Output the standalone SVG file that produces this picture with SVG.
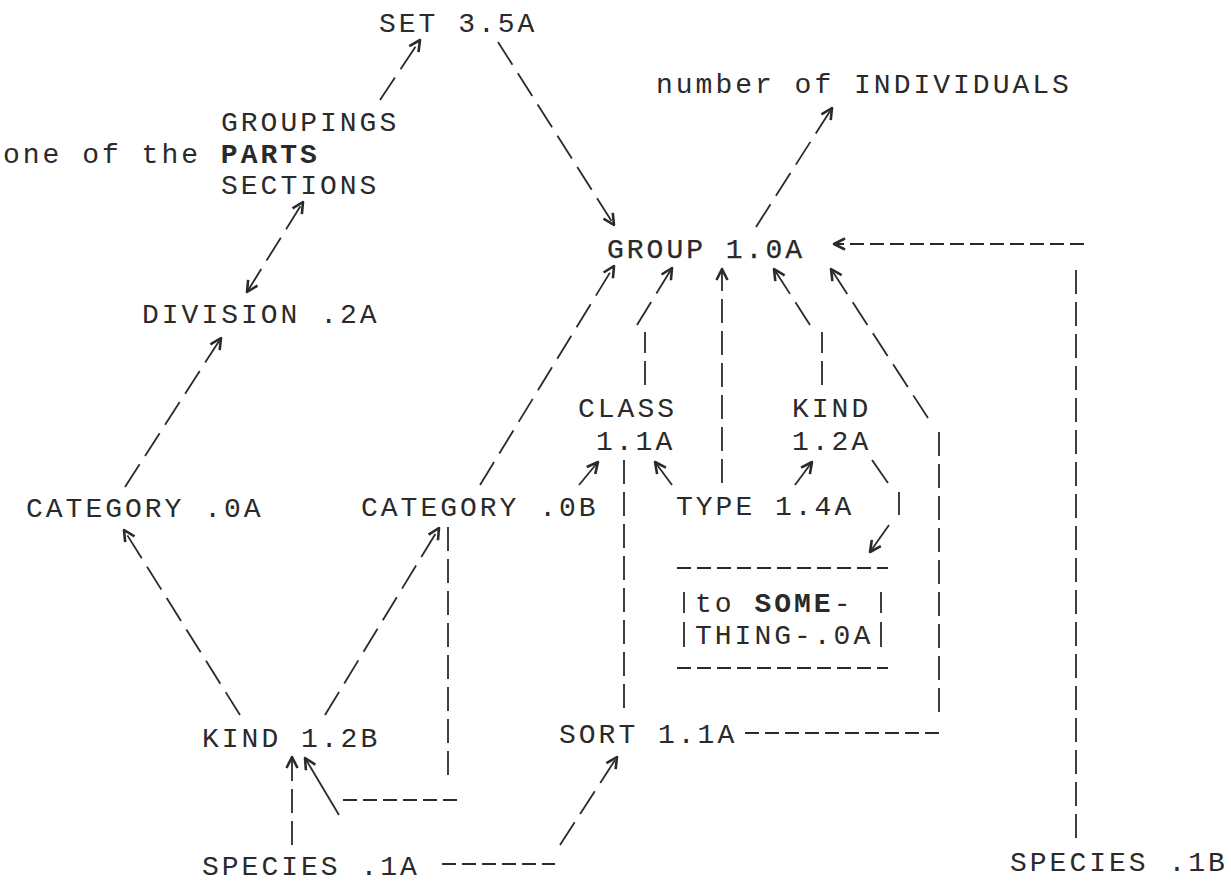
<svg xmlns="http://www.w3.org/2000/svg" width="1231" height="883" viewBox="0 0 1231 883">
<style>
  .t { font-family: "Liberation Mono", "DejaVu Sans Mono", monospace; font-size: 28px; letter-spacing: 3px; fill: #2a2a2a; }
  .b { font-weight: bold; }
  .g { stroke: #2a2a2a; stroke-width: 0.25; }
  .c { fill: none; stroke: #2a2a2a; stroke-width: 1.8; stroke-linecap: butt; }
  .d { stroke-dasharray: 27 10; }
  .v { stroke-dasharray: 24 8; }
  .h { stroke-dasharray: 14 6; }
  .a { marker-end: url(#ah); }
  .a2 { marker-start: url(#ah); marker-end: url(#ah); }
</style>
<defs>
  <marker id="ah" markerUnits="userSpaceOnUse" markerWidth="24" markerHeight="24" refX="12" refY="12" orient="auto-start-reverse" overflow="visible">
    <path d="M1,6.5 L12,12 L1,17.5" fill="none" stroke="#2a2a2a" stroke-width="2.6" stroke-linejoin="round" stroke-dasharray="none"/>
  </marker>
</defs>
<rect width="1231" height="883" fill="#ffffff"/>

<g id="connectors">
  <path class="c d a" d="M380,100 L420,40"/>
  <path class="c d a" d="M498,42 L614,225"/>
  <path class="c d a2" d="M247,292 L303,202"/>
  <path class="c d a" d="M125,487 L221,338"/>
  <path class="c d a" d="M756,227 L832,108"/>
  <path class="c d a" d="M480,485 L614,266"/>
  <path class="c v" d="M645,385 L645,332"/>
  <path class="c d a" d="M637,325 L672,268"/>
  <path class="c v a" d="M722,483 L722,269"/>
  <path class="c v" d="M822,385 L822,332"/>
  <path class="c d a" d="M810,325 L774,269"/>
  <path class="c h" d="M745,733 L945,733"/>
  <path class="c v" d="M939,712 L939,427"/>
  <path class="c d a" d="M928,418 L831,269"/>
  <path class="c v" d="M1076,838 L1076,263"/>
  <path class="c h a" d="M1084,244 L834,244"/>
  <path class="c a" d="M579,485 L598,462"/>
  <path class="c a" d="M672,485 L655,462"/>
  <path class="c a" d="M795,485 L812,462"/>
  <path class="c" d="M872,460 L888,483"/>
  <path class="c" d="M899,492 L899,515"/>
  <path class="c a" d="M889,525 L870,552"/>
  <path class="c v" d="M624,460 L624,712"/>
  <path class="c d a" d="M240,715 L124,530"/>
  <path class="c d a" d="M325,715 L439,528"/>
  <path class="c v a" d="M292,845 L292,757"/>
  <path class="c v" d="M448,527 L448,780"/>
  <path class="c h" d="M457,800 L343,800"/>
  <path class="c a" d="M339,815 L305,758"/>
  <path class="c h" d="M442,864 L555,864"/>
  <path class="c d a" d="M560,845 L617,757"/>
</g>

<g id="set"><text class="t" x="379" y="32">SET 3.5A</text></g>
<g id="individuals"><text class="t" x="656" y="93">number of INDIVIDUALS</text></g>
<g id="groupings">
  <text class="t" x="221" y="131">GROUPINGS</text>
  <text class="t" x="3" y="162.5">one of the <tspan class="b">PARTS</tspan></text>
  <text class="t" x="221" y="194">SECTIONS</text>
</g>
<g id="group"><text class="t g" x="607" y="258" letter-spacing="3.8">GROUP 1.0A</text></g>
<g id="division"><text class="t" x="142" y="323">DIVISION .2A</text></g>
<g id="class"><text class="t" x="578" y="417">CLASS</text><text class="t" x="596" y="450">1.1A</text></g>
<g id="kind-a"><text class="t" x="792" y="417">KIND</text><text class="t" x="792" y="450">1.2A</text></g>
<g id="category-a"><text class="t" x="26" y="517">CATEGORY .0A</text></g>
<g id="category-b"><text class="t" x="361" y="516">CATEGORY .0B</text></g>
<g id="type"><text class="t" x="676" y="515">TYPE 1.4A</text></g>
<g id="something">
  <path class="c h" d="M677,568 L888,568"/>
  <path class="c h" d="M677,668 L888,668"/>
  <path class="c" d="M684,592 L684,613 M684,622 L684,647 M881,592 L881,613 M881,622 L881,647"/>
  <text class="t" x="695" y="612">to <tspan class="b">SOME</tspan>-</text>
  <text class="t" x="695" y="644">THING-.0A</text>
</g>
<g id="kind-b"><text class="t" x="202" y="747">KIND 1.2B</text></g>
<g id="sort"><text class="t" x="559" y="743">SORT 1.1A</text></g>
<g id="species-a"><text class="t" x="202" y="875">SPECIES .1A</text></g>
<g id="species-b"><text class="t" x="1010" y="871">SPECIES .1B</text></g>
</svg>
